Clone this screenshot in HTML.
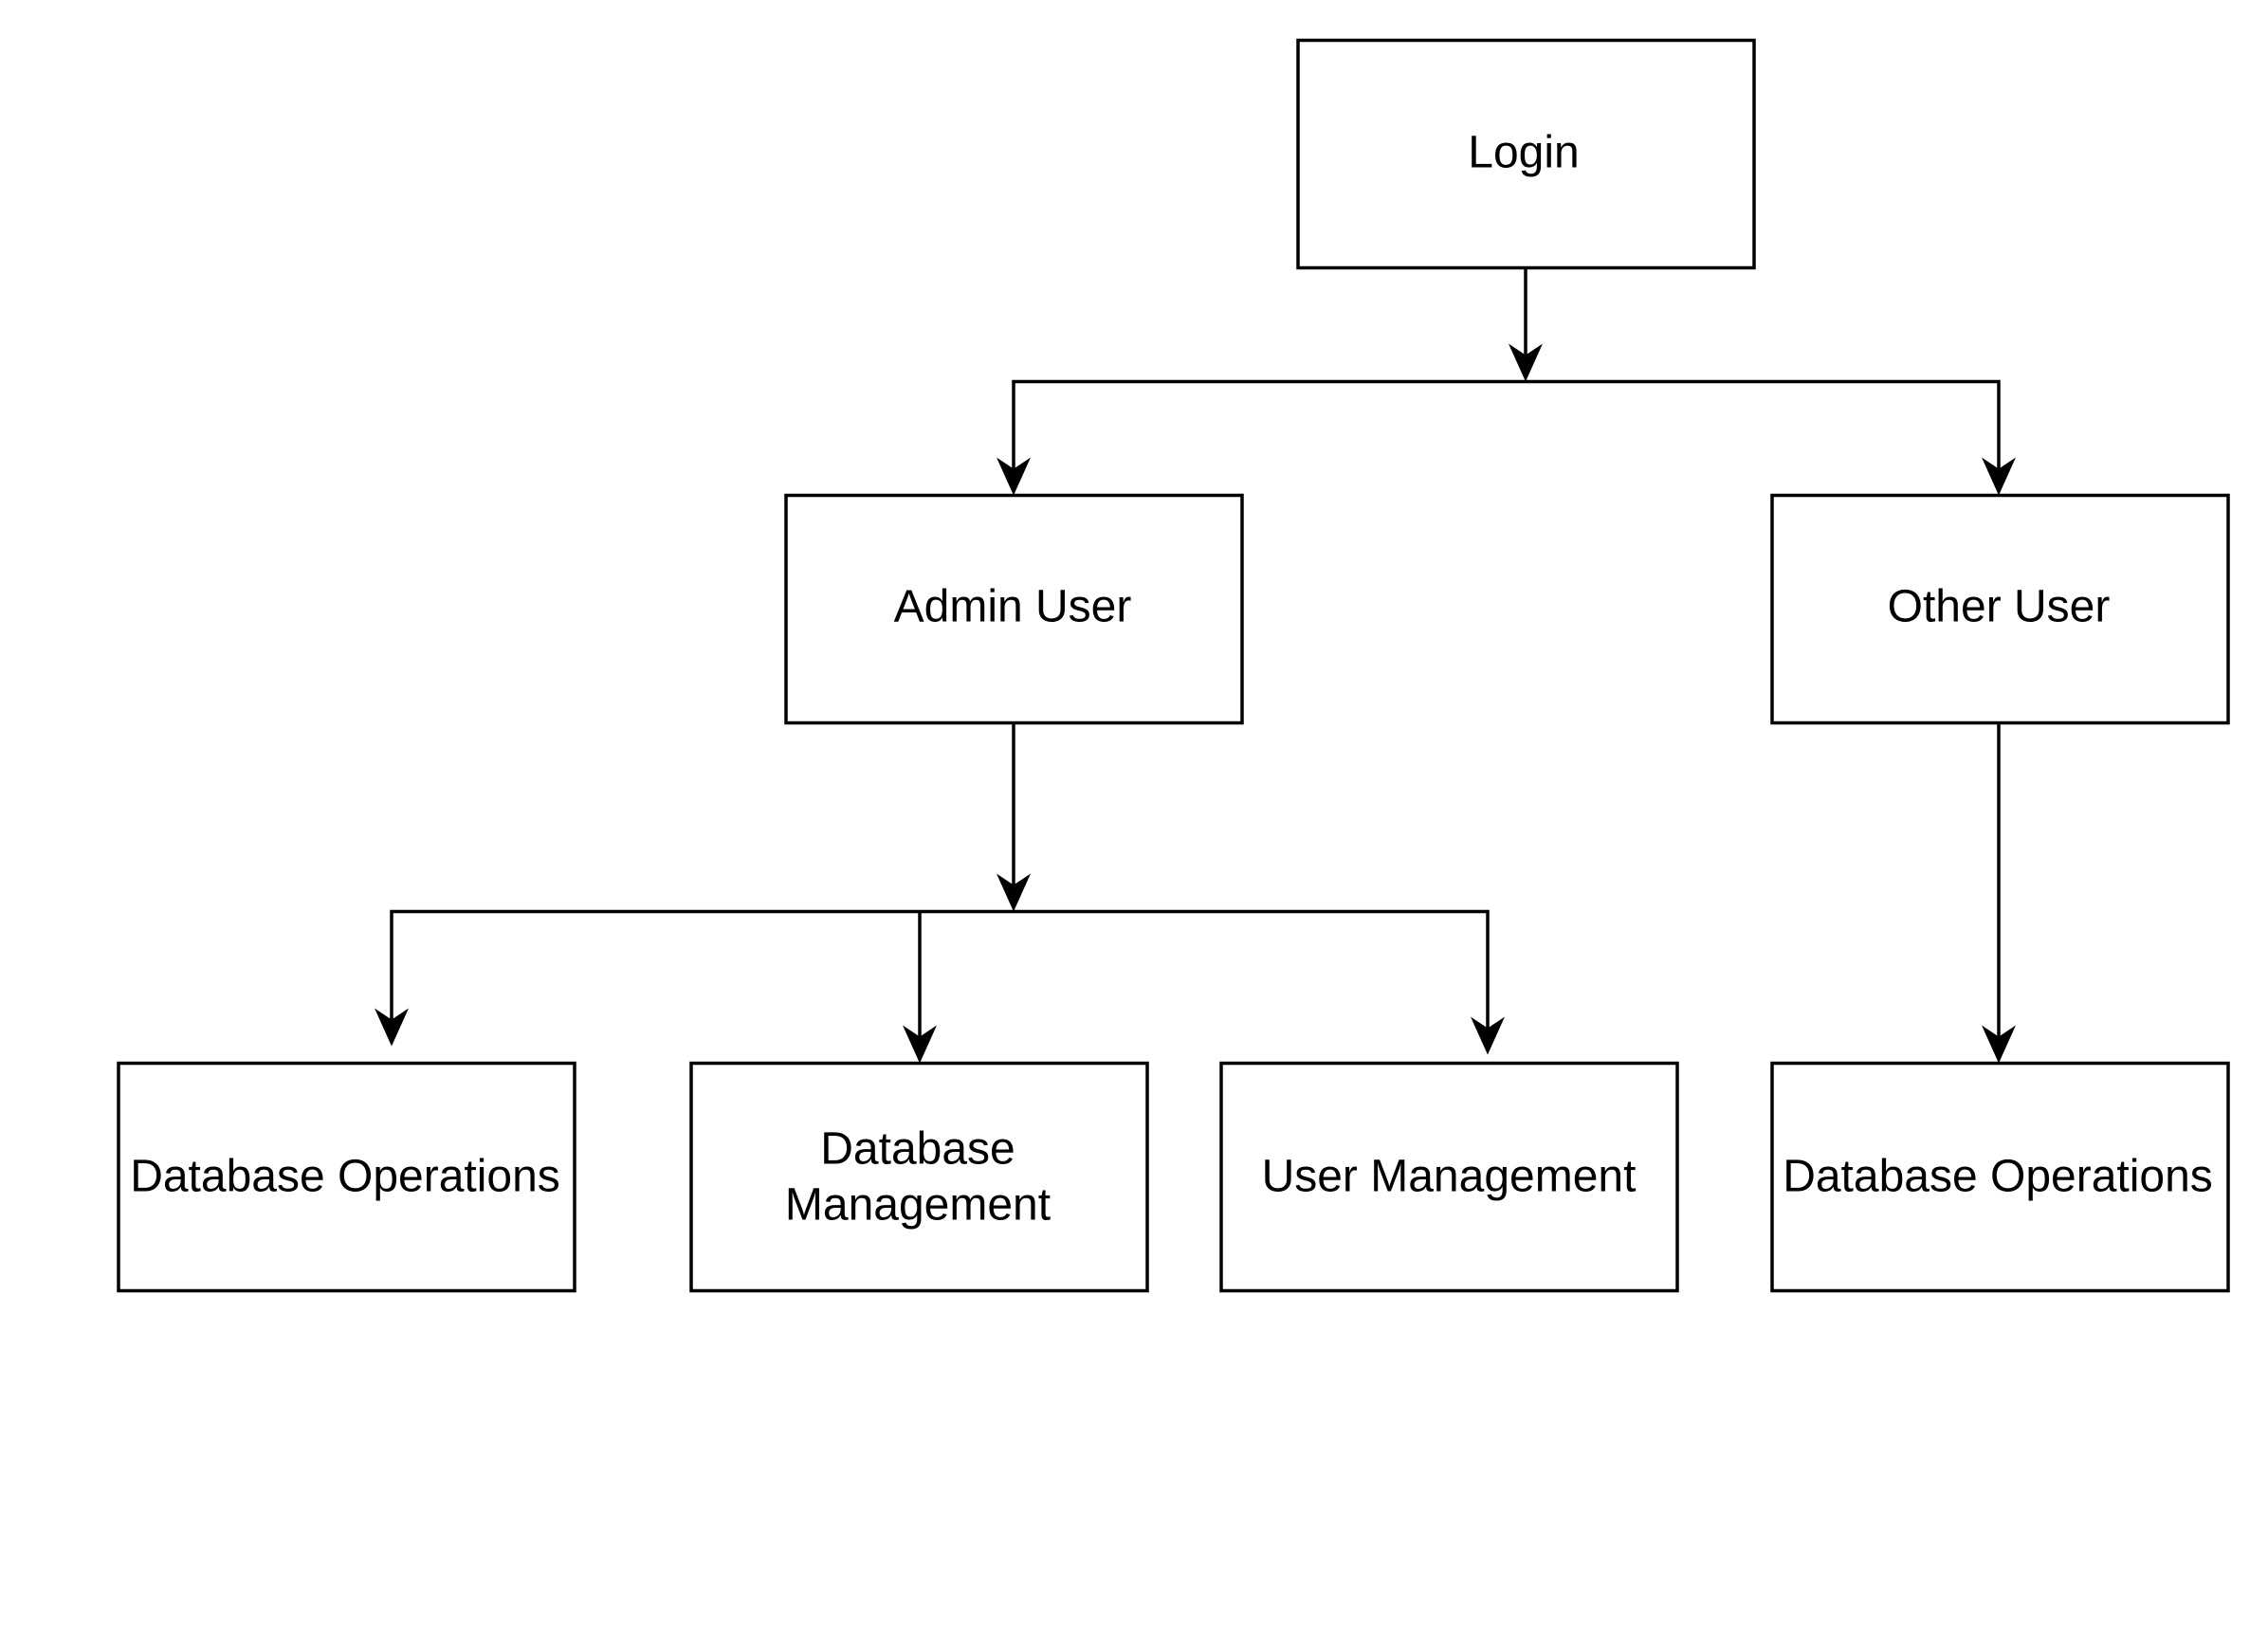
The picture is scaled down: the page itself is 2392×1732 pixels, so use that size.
<!DOCTYPE html>
<html><head><style>html,body{margin:0;padding:0;background:#fff;}svg{display:block}</style></head>
<body>
<svg width="2392" height="1732" viewBox="0 0 2392 1732" xmlns="http://www.w3.org/2000/svg">
<rect width="2392" height="1732" fill="#fff"/>
<g transform="translate(0,1.5)">
<g fill="#fff" stroke="#000" stroke-width="3.5">
<rect x="1369" y="41" width="481" height="240"/>
<rect x="829" y="521" width="481" height="240"/>
<rect x="1869" y="521" width="481" height="240"/>
<rect x="125" y="1120" width="481" height="240"/>
<rect x="729" y="1120" width="481" height="240"/>
<rect x="1288" y="1120" width="481" height="240"/>
<rect x="1869" y="1120" width="481" height="240"/>
</g>
<g fill="none" stroke="#000" stroke-width="3.5">
<path d="M1609 281V393"/>
<path d="M1069 511V401H2108V511"/>
<path d="M1069 761V952"/>
<path d="M413 1092V960H1569V1101"/>
<path d="M970 960V1110"/>
<path d="M2108 761V1110"/>
</g>
<g fill="#000">
<path d="M1609 401l-18-40l18 12l18-12z"/>
<path d="M1069 521l-18-40l18 12l18-12z"/>
<path d="M2108 521l-18-40l18 12l18-12z"/>
<path d="M1069 960l-18-40l18 12l18-12z"/>
<path d="M413 1102l-18-40l18 12l18-12z"/>
<path d="M970 1120l-18-40l18 12l18-12z"/>
<path d="M1569 1111l-18-40l18 12l18-12z"/>
<path d="M2108 1120l-18-40l18 12l18-12z"/>
</g>
<g font-family="Liberation Sans, Arial, sans-serif" font-size="48" fill="#000" text-anchor="middle">
<text x="1607" y="175">Login</text>
<text x="1068" y="654">Admin User</text>
<text x="2108" y="654">Other User</text>
<text x="364" y="1255">Database Operations</text>
<text x="968" y="1226">Database</text>
<text x="968" y="1285">Management</text>
<text x="1528" y="1255">User Management</text>
<text x="2107" y="1255">Database Operations</text>
</g>
</g>
</svg>
</body></html>
